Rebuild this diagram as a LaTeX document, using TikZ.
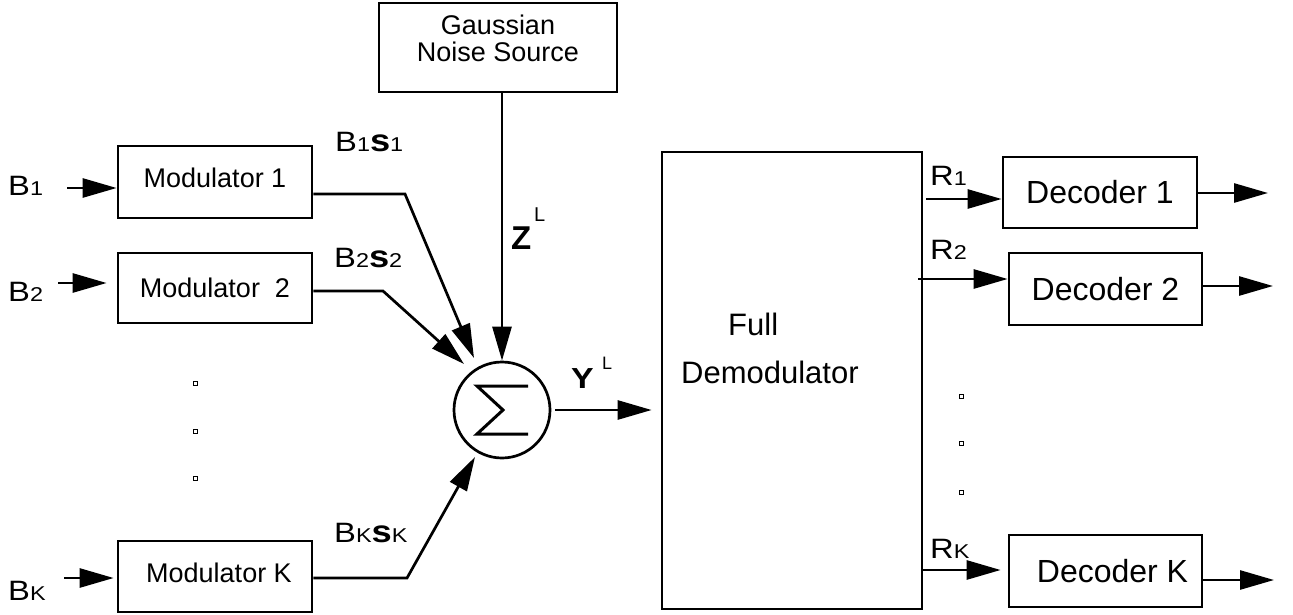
\documentclass[tikz,border=0pt]{standalone}
\usepackage{graphicx}
\usepackage{fontspec}
\setmainfont{Liberation Sans}
\usetikzlibrary{arrows.meta}
\newcommand{\fs}[1]{\fontsize{#1}{#1}\selectfont}
\newcommand{\lo}[1]{{\fs{20}#1}}
\newcommand{\bs}{{\fs{31}\bfseries s}}
\newcommand{\wide}[1]{\scalebox{1.17}[1]{#1}}

\begin{document}
\begin{tikzpicture}[x=1pt,y=-1pt,
  box/.style={draw, line width=2.7pt, inner sep=0pt, font=\fs{27}},
  wire/.style={line width=2.7pt},
  arr/.style={wire, -{Triangle[length=34pt,width=19pt]}},
  lbl/.style={inner sep=0pt, anchor=base west, font=\fs{28}},
  dotmark/.style={draw, line width=0.9pt, minimum size=4pt, inner sep=0pt}
]
\useasboundingbox (0,0) rectangle (1293,615);

% blocks
\node[box, minimum width=238pt, minimum height=89pt, align=center, font=\fs{27},
  text depth=18pt] (gauss) at (498,47.5) {Gaussian\\Noise Source};
\node[box, minimum width=194pt, minimum height=72pt, text depth=8pt] (m1) at (215,182) {Modulator 1};
\node[box, minimum width=194pt, minimum height=70pt] (m2) at (215,288) {Modulator\ \ 2};
\node[box, minimum width=194pt, minimum height=71pt, text depth=8pt] (mK) at (215,576.5) {\hspace*{8pt}Modulator K};
\node[draw, circle, line width=2.7pt, minimum size=96pt, inner sep=0pt] (sum) at (502,410) {};
\node[box, minimum width=260pt, minimum height=457pt] (demod) at (792,380.5) {};
\node[lbl, font=\fs{31}] (fulltext) at (728,335) {Full};
\node[lbl, font=\fs{31}] (demodtext) at (681,383) {Demodulator};
\node[box, font=\fs{32}, minimum width=194pt, minimum height=71pt] (d1) at (1100,192.5) {Decoder 1};
\node[box, font=\fs{32}, minimum width=193pt, minimum height=72pt] (d2) at (1105.5,289) {Decoder 2};
\node[box, font=\fs{32}, minimum width=193pt, minimum height=72pt] (dK) at (1105.5,571) {\hspace*{14pt}Decoder K};

% summing symbol
\draw[line width=3pt, line join=miter]
  ([shift={(26,-24)}]sum.center) -- ([shift={(-25,-24)}]sum.center)
  -- ([shift={(1,0)}]sum.center) -- ([shift={(-25,24)}]sum.center)
  -- ([shift={(26,24)}]sum.center);

% labels
\node[lbl] (b1) at (8,195) {\wide{B\lo{1}}};
\node[lbl] (b2) at (8,301) {\wide{B\lo{2}}};
\node[lbl] (bK) at (8,600) {\wide{B\lo{K}}};
\node[lbl] (s1) at (335,152) {\wide{B\lo{1}\bs\lo{1}}};
\node[lbl] (s2) at (334,267) {\wide{B\lo{2}\bs\lo{2}}};
\node[lbl] (sK) at (334,542) {\wide{B\lo{K}\bs\lo{K}}};
\node[lbl, font=\fs{33}\bfseries] (zlbl) at (511,249) {Z};
\node[lbl, font=\fs{20}] (zsup) at (534,221) {L};
\node[lbl, font=\fs{29}\bfseries] (ylbl) at (571,388) {\wide{Y}};
\node[lbl, font=\fs{18}] (ysup) at (602,369) {L};
\node[lbl] (r1) at (930,185) {\wide{R\lo{1}}};
\node[lbl] (r2) at (930,259) {\wide{R\lo{2}}};
\node[lbl] (rK) at (930,558) {\wide{R\lo{K}}};

% ellipsis marks
\foreach \y [count=\i] in {383,431,478} \node[dotmark] (ldot\i) at (195,\y) {};
\foreach \y [count=\i] in {396,443,492} \node[dotmark] (rdot\i) at (961,\y) {};

% free ends and bends
\coordinate (b1in) at (67,188);
\coordinate (b2in) at (58,283);
\coordinate (bKin) at (64,578);
\coordinate (k1) at (405,194);
\coordinate (t1) at (474,358);
\coordinate (k2) at (383,291);
\coordinate (t2) at (464,364);
\coordinate (kK) at (407,578);
\coordinate (tK) at (475,457);
\coordinate (rin1) at (926,199);
\coordinate (rin2) at (918,279);
\coordinate (rinK) at (922,570);
\coordinate (o1) at (1268,193);
\coordinate (o2) at (1273,286);
\coordinate (oK) at (1274,580);

% inputs
\draw[arr] (b1in) -- (m1.west |- b1in);
\draw[arr] (b2in) -- ([xshift=-10pt]m2.west |- b2in);
\draw[arr] (bKin) -- ([xshift=-3pt]mK.west |- bKin);

% modulated signals into the adder
\draw[arr] (m1.east |- k1) -- (k1) -- (t1);
\draw[arr] (m2.east |- k2) -- (k2) -- (t2);
\draw[arr] (mK.east |- kK) -- (kK) -- (tK);
\draw[arr] (sum.north |- gauss.south) -- (sum.north);
\draw[arr] ([xshift=4pt]sum.east) -- ([xshift=-9pt]demod.west |- sum.east);

% demodulator outputs
\draw[arr] (rin1) -- (d1.west |- rin1);
\draw[arr] (rin2) -- (d2.west |- rin2);
\draw[arr] (rinK) -- ([xshift=-7pt]dK.west |- rinK);

% decoder outputs
\draw[arr] (d1.east |- o1) -- (o1);
\draw[arr] (d2.east |- o2) -- (o2);
\draw[arr] (dK.east |- oK) -- (oK);
\end{tikzpicture}
\end{document}
